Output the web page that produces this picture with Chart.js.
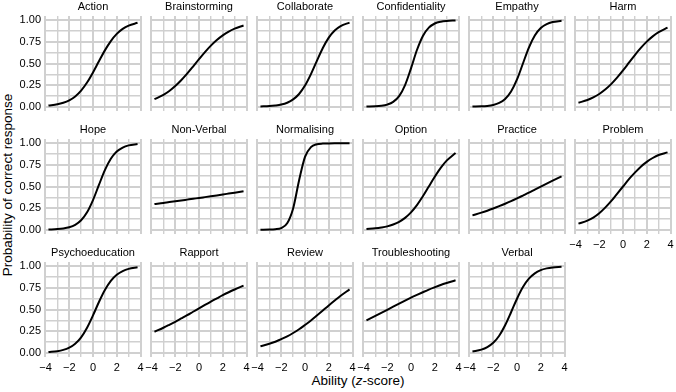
<!DOCTYPE html>
<html>
<head>
<meta charset="utf-8">
<script src="https://cdn.jsdelivr.net/npm/chart.js@4.4.1/dist/chart.umd.min.js"></script>
<style>
  html, body { margin: 0; padding: 0; background: #ffffff; }
  body { width: 676px; height: 392px; position: relative; overflow: hidden; font-family: 'Liberation Sans', Arial, sans-serif; }
  canvas { position: absolute; }
  .axis-title { position: absolute; font-family: 'Liberation Sans', Arial, sans-serif; font-size: 13.5px; line-height: 16px; color: #000; text-align: center; white-space: nowrap; }
</style>
</head>
<body>
<div class="axis-title" id="xTitle" style="left:158px; top:373px; width:400px;">Ability (<i>z</i>-score)</div>
<div class="axis-title" id="yTitle" style="left:-142px; top:177px; width:300px; height:16px; transform: rotate(-90deg); transform-origin: 150px 8px;">Probability of correct response</div>
<script>
// ---------- data ----------
const abilityGrid = [-3.75, -3, -2.5, -2, -1.5, -1, -0.5, 0, 0.5, 1, 1.5, 2, 2.5, 3, 3.75];

const itemNames = ['Action', 'Brainstorming', 'Collaborate', 'Confidentiality', 'Empathy', 'Harm',
                   'Hope', 'Non-Verbal', 'Normalising', 'Option', 'Practice', 'Problem',
                   'Psychoeducation', 'Rapport', 'Review', 'Troubleshooting', 'Verbal'];

const action          = [0.013, 0.027, 0.045, 0.074, 0.119, 0.187, 0.280, 0.397, 0.526, 0.652, 0.760, 0.843, 0.901, 0.939, 0.971];
const brainstorming   = [0.087, 0.137, 0.182, 0.239, 0.306, 0.382, 0.465, 0.550, 0.632, 0.707, 0.772, 0.826, 0.870, 0.904, 0.940];
const collaborate     = [0.003, 0.007, 0.014, 0.025, 0.046, 0.084, 0.147, 0.244, 0.377, 0.531, 0.680, 0.800, 0.883, 0.934, 0.973];
const confidentiality = [0.001, 0.004, 0.010, 0.024, 0.055, 0.122, 0.250, 0.444, 0.656, 0.819, 0.915, 0.963, 0.984, 0.993, 0.998];
const empathy         = [0.001, 0.004, 0.009, 0.020, 0.043, 0.089, 0.175, 0.315, 0.500, 0.685, 0.825, 0.911, 0.957, 0.980, 0.994];
const harm            = [0.046, 0.077, 0.107, 0.147, 0.198, 0.261, 0.336, 0.420, 0.509, 0.598, 0.680, 0.753, 0.814, 0.863, 0.915];
const hope            = [0.002, 0.007, 0.014, 0.028, 0.056, 0.109, 0.201, 0.343, 0.518, 0.690, 0.821, 0.905, 0.951, 0.976, 0.992];
const nonVerbal       = [0.297, 0.310, 0.320, 0.329, 0.338, 0.348, 0.358, 0.367, 0.377, 0.387, 0.397, 0.408, 0.418, 0.428, 0.444];
const normalising     = [0.000, 0.001, 0.005, 0.019, 0.074, 0.246, 0.570, 0.843, 0.956, 0.989, 0.997, 0.999, 1.000, 1.000, 1.000];
const option          = [0.008, 0.016, 0.025, 0.038, 0.060, 0.091, 0.137, 0.201, 0.285, 0.387, 0.500, 0.613, 0.715, 0.799, 0.888];
const practice        = [0.166, 0.197, 0.220, 0.245, 0.272, 0.300, 0.330, 0.362, 0.395, 0.428, 0.463, 0.498, 0.533, 0.567, 0.618];
const problem         = [0.070, 0.105, 0.140, 0.190, 0.255, 0.330, 0.415, 0.500, 0.585, 0.660, 0.730, 0.785, 0.830, 0.865, 0.895];
const psychoeducation = [0.007, 0.017, 0.032, 0.059, 0.104, 0.178, 0.289, 0.432, 0.587, 0.726, 0.832, 0.903, 0.945, 0.970, 0.988];
const rapport         = [0.242, 0.289, 0.323, 0.358, 0.396, 0.434, 0.474, 0.513, 0.553, 0.592, 0.629, 0.666, 0.700, 0.732, 0.777];
const review          = [0.075, 0.103, 0.127, 0.156, 0.189, 0.228, 0.271, 0.321, 0.373, 0.430, 0.488, 0.547, 0.604, 0.659, 0.733];
const troubleshooting = [0.373, 0.425, 0.460, 0.496, 0.532, 0.568, 0.603, 0.637, 0.669, 0.700, 0.730, 0.757, 0.783, 0.806, 0.838];
const verbal          = [0.014, 0.035, 0.064, 0.114, 0.196, 0.317, 0.468, 0.625, 0.760, 0.857, 0.919, 0.956, 0.976, 0.987, 0.995];

const itemSeries = [action, brainstorming, collaborate, confidentiality, empathy, harm,
                    hope, nonVerbal, normalising, option, practice, problem,
                    psychoeducation, rapport, review, troubleshooting, verbal];

const xGridValues = [-4, -3, -2, -1, 0, 1, 2, 3, 4];
const xTickLabels = [-4, -2, 0, 2, 4];
const yGridValues = [0, 0.125, 0.25, 0.375, 0.5, 0.625, 0.75, 0.875, 1];
const yTickLabels = [0, 0.25, 0.5, 0.75, 1];

// ---------- layout ----------
const NCOL = 6;
const colLeft = [44, 150, 256, 362, 468, 574];
const rowTop = [16, 139, 262];
const PW = 98, PH = 95;
const TITLE_H = 18;
const FONT = "'Liberation Sans', Arial, sans-serif";
const GRID_COLOR = '#d0d0d0';

function fmtX(v) { return v < 0 ? '\u2212' + Math.abs(v) : String(v); }
function isMajorX(v) { return xTickLabels.indexOf(v) >= 0; }
function isMajorY(v) { return yTickLabels.some(t => Math.abs(t - v) < 1e-9); }

itemNames.forEach((name, idx) => {
  const r = Math.floor(idx / NCOL), c = idx % NCOL;
  const hasY = c === 0;
  const hasX = (r === 2) || (r === 1 && c === NCOL - 1);
  const padL = hasY ? 0 : 10, padR = 10;
  const yW = hasY ? colLeft[0] : 0;
  const xH = hasX ? 20 : 0;
  const cw = padL + yW + PW + padR;
  const ch = TITLE_H + PH + xH;
  const canvas = document.createElement('canvas');
  canvas.width = cw; canvas.height = ch;
  canvas.style.width = cw + 'px'; canvas.style.height = ch + 'px';
  canvas.style.left = (hasY ? 0 : colLeft[c] - padL) + 'px';
  canvas.style.top = (rowTop[r] - TITLE_H) + 'px';
  document.body.appendChild(canvas);

  const values = itemSeries[idx];
  const pts = abilityGrid.map((x, i) => ({ x: x, y: values[i] }));

  new Chart(canvas, {
    type: 'line',
    data: {
      datasets: [{
        label: name,
        data: pts,
        borderColor: '#000000',
        borderWidth: 2,
        pointRadius: 0,
        fill: false,
        cubicInterpolationMode: 'monotone'
      }]
    },
    options: {
      responsive: false,
      maintainAspectRatio: false,
      animation: false,
      devicePixelRatio: 1,
      layout: { padding: { left: padL, right: padR, top: 0, bottom: 0 } },
      plugins: {
        legend: { display: false },
        tooltip: { enabled: false },
        title: {
          display: true,
          text: name,
          fullSize: false,
          color: '#000000',
          font: { family: FONT, size: 11, weight: 'normal', lineHeight: 1.2 },
          padding: { top: 2, bottom: 2.8 }
        }
      },
      scales: {
        x: {
          type: 'linear',
          min: -4.125, max: 4.125,
          border: { display: false },
          grid: {
            drawTicks: false,
            color: GRID_COLOR,
            lineWidth: ctx => (ctx.tick && isMajorX(ctx.tick.value)) ? 2 : 1.4
          },
          ticks: {
            display: hasX,
            autoSkip: false,
            maxRotation: 0,
            padding: 4,
            color: '#000000',
            font: { family: FONT, size: 11 },
            callback: v => isMajorX(v) ? fmtX(v) : ''
          },
          afterBuildTicks: axis => { axis.ticks = xGridValues.map(v => ({ value: v })); },
          afterFit: axis => { axis.height = xH; axis.paddingLeft = 0; axis.paddingRight = 0; }
        },
        y: {
          type: 'linear',
          min: -0.05, max: 1.05,
          border: { display: false },
          grid: {
            drawTicks: false,
            color: GRID_COLOR,
            lineWidth: ctx => (ctx.tick && isMajorY(ctx.tick.value)) ? 2 : 1.4
          },
          ticks: {
            display: hasY,
            autoSkip: false,
            padding: 3,
            color: '#000000',
            font: { family: FONT, size: 11 },
            callback: v => isMajorY(v) ? v.toFixed(2) : ''
          },
          afterBuildTicks: axis => { axis.ticks = yGridValues.map(v => ({ value: v })); },
          afterFit: axis => { axis.width = yW; axis.paddingTop = 0; axis.paddingBottom = 0; }
        }
      }
    }
  });
});
</script>
</body>
</html>
